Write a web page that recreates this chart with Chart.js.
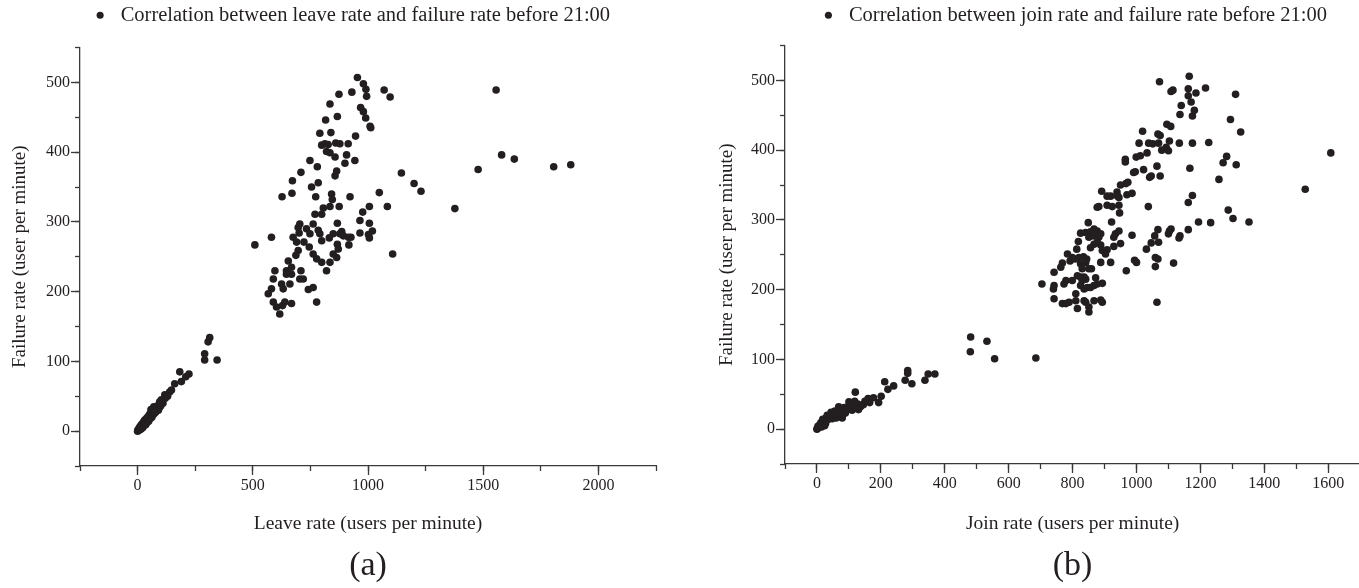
<!DOCTYPE html>
<html>
<head>
<meta charset="utf-8">
<title>Failure rate correlation</title>
<script src="https://cdn.jsdelivr.net/npm/chart.js@4.4.1/dist/chart.umd.min.js"></script>
<style>
  html, body { margin: 0; padding: 0; background: #fff; overflow: hidden; }
  #wrap { position: relative; width: 1359px; height: 588px; overflow: hidden; }
  canvas { position: absolute; top: 0; }
  #leaveChart { left: 0; }
  #joinChart { left: 680px; }
</style>
</head>
<body>
<div id="wrap">
  <canvas id="leaveChart" width="680" height="588"></canvas>
  <canvas id="joinChart" width="684" height="588"></canvas>
</div>
<script>
// (a) leave rate vs failure rate
const leaveRate = [
    // dense band near the origin
    0, 2, 3, 5, 8, 10, 12, 15, 16, 20, 22, 25, 28, 31, 35, 38, 40, 45, 48, 52,
    55, 58, 60, 62, 66, 68, 70, 74, 75, 80, 82, 89, 90, 95, 96, 100, 103, 110, 120, 130,
    // scattered low points
    118, 139, 147, 161, 190, 209, 223, 183, 291, 291, 306, 313, 345,
    // main cluster, upper left
    874, 835, 867, 816, 791, 839, 799, 813, 827, 860,
    878, 820, 835, 857, 748, 780, 709, 864, 857, 672,
    670, 755, 784, 627, 773, 842, 845, 835, 875, 806,
    799, 770,
    // main cluster, lower part
    704, 697, 701, 733, 748, 762, 784, 791, 799, 832,
    849, 867, 878, 893, 915, 917, 867, 871, 849, 864,
    835, 820, 799, 777, 762, 745, 722, 690, 675, 697,
    687, 654, 668, 646, 646, 668, 704, 719, 661, 625,
    632, 596, 589, 581, 567, 589, 603, 617, 629, 639,
    668, 741, 762, 777, 709, 509, 581,
    // main cluster, right side
    954, 980, 991, 994, 930, 1070, 1096, 1556, 968, 980,
    990, 1009, 1012, 946, 914, 907, 900, 943, 1145, 1200,
    1230, 1478, 1580, 922, 1049, 1006, 1084, 977, 965, 1006,
    886, 926, 965, 1002, 1019, 1006, 1107, 1377,
    // far right
    1635, 1806, 1880
];
const leaveFailure = [
    0, 2, 1, 3, 5, 2, 7, 3, 9, 10, 5, 13, 8, 16, 9, 18, 12, 21, 14, 24,
    18, 31, 28, 20, 30, 24, 35, 33, 26, 28, 35, 37, 30, 34, 42, 36, 45, 40, 47, 50,
    52, 56, 59, 68, 71, 78, 82, 85, 102, 111, 128, 134, 102,
    483, 469, 451, 446, 427, 428, 410, 412, 411, 413,
    412, 401, 399, 393, 388, 379, 371, 373, 366, 359,
    341, 350, 356, 336, 336, 340, 332, 322, 322, 320,
    311, 311,
    297, 292, 284, 290, 283, 297, 288, 283, 273, 277,
    283, 298, 283, 280, 278, 267, 268, 261, 254, 249,
    242, 230, 242, 247, 254, 264, 271, 271, 278, 259,
    252, 244, 235, 230, 225, 225, 218, 218, 211, 211,
    204, 230, 218, 204, 197, 185, 178, 168, 180, 185,
    183, 203, 206, 185, 230, 267, 278,
    507, 498, 490, 480, 486, 489, 479, 489, 464, 458,
    449, 437, 435, 423, 412, 396, 384, 388, 370, 355,
    344, 375, 396, 336, 342, 322, 322, 314, 302, 298,
    286, 278, 284, 282, 287, 277, 254, 319,
    390, 379, 382
];

// (b) join rate vs failure rate
const joinRate = [
    // dense band near the origin
    0, 1, 3, 5, 8, 10, 12, 14, 17, 18, 22, 24, 27, 28, 32, 36, 40, 44, 48, 50,
    56, 60, 62, 68, 70, 75, 79, 80, 85, 89, 92, 95, 100, 104, 110, 115, 118, 128, 130, 136,
    145, 150, 160,
    // scattered low points
    120, 165, 177, 193, 201, 212, 222, 240, 276, 297,
    284, 284, 338, 348, 369, 481, 532, 480, 556, 685,
    // main cluster
    1165, 1072, 1114, 1108, 1162, 1186, 1216, 1310, 1162, 1171,
    1140, 1181, 1136, 1175, 1294, 1095, 1107, 1326, 1019, 1067,
    1074, 1008, 1038, 1051, 1069, 1103, 1093, 1079, 1100, 1134,
    1175, 1226, 1033, 999, 1012, 965, 965, 1282, 1271, 1312,
    1608, 996, 991, 1022, 1064, 1046, 1041, 1074, 1167, 1258,
    973, 967, 950, 891, 908, 919, 939, 941, 945, 970,
    986, 882, 877, 908, 924, 945, 947, 1037, 1175, 1162,
    1528, 1287, 1302, 1352, 1194, 1232, 849, 922, 825, 841,
    856, 867, 877, 888, 882, 867, 851, 934, 945, 929,
    986, 1067, 1057, 1046, 1069, 1031, 1103, 1108, 1100, 1136,
    1133, 1162, 818, 813, 784, 799, 792, 768, 763, 742,
    820, 834, 844, 841, 825, 808, 856, 867, 877, 888,
    893, 908, 903, 929, 950, 888, 919, 859, 851, 830,
    968, 994, 1000, 1059, 1067, 1059, 1116, 742, 740, 773,
    779, 799, 815, 825, 836, 830, 841, 825, 836, 846,
    856, 872, 867, 877, 893, 810, 742, 768, 779, 789,
    810, 815, 836, 841, 851, 851, 867, 888, 893, 1064, 704
];
const joinFailure = [
    0, 1, 4, 2, 6, 4, 9, 3, 7, 14, 12, 5, 8, 16, 20, 14, 18, 24, 15, 20,
    26, 16, 22, 32, 25, 28, 16, 20, 31, 23, 28, 30, 39, 35, 27, 33, 40, 36, 28, 32,
    35, 40, 44,
    53, 38, 45, 38, 47, 68, 57, 62, 70, 65,
    84, 80, 70, 79, 79, 132, 126, 111, 101, 102,
    506, 498, 486, 484, 488, 482, 489, 480, 478, 469,
    464, 457, 451, 449, 444, 437, 434, 426, 427, 423,
    421, 410, 410, 409, 410, 413, 404, 400, 399, 410,
    410, 411, 396, 390, 392, 387, 383, 391, 382, 379,
    396, 369, 368, 372, 377, 363, 361, 363, 374, 358,
    354, 352, 350, 341, 334, 334, 340, 334, 332, 336,
    338, 319, 318, 321, 319, 321, 310, 319, 335, 325,
    344, 314, 302, 297, 297, 296, 296, 297, 281, 282,
    283, 287, 284, 280, 275, 277, 275, 280, 284, 275,
    278, 286, 277, 267, 268, 258, 284, 287, 280, 277,
    274, 286, 269, 258, 251, 246, 241, 238, 232, 225,
    246, 247, 244, 239, 237, 244, 260, 265, 268, 264,
    256, 257, 251, 262, 266, 239, 239, 230, 230, 230,
    227, 242, 239, 246, 244, 233, 238, 206, 201, 208,
    213, 213, 220, 218, 218, 213, 215, 206, 201, 203,
    203, 217, 206, 208, 209, 194, 187, 180, 180, 182,
    184, 173, 184, 182, 175, 168, 184, 185, 182, 182, 208
];

// tick positions
const failureTicks = [0, 100, 200, 300, 400, 500];
const failureMinorTicks = [-50, 0, 50, 100, 150, 200, 250, 300, 350, 400, 450, 500, 550];
const leaveTicks = [0, 500, 1000, 1500, 2000];
const leaveMinorTicks = [-250, 0, 250, 500, 750, 1000, 1250, 1500, 1750, 2000, 2250];
const joinTicks = [0, 200, 400, 600, 800, 1000, 1200, 1400, 1600];
const joinMinorTicks = [-100, 0, 100, 200, 300, 400, 500, 600, 700, 800, 900, 1000, 1100, 1200, 1300, 1400, 1500, 1600, 1700];

const inkColor = '#231f20';
const axisColor = '#3a3a3a';
const serif = "'Liberation Serif', 'Times New Roman', serif";

function pairUp(xs, ys) {
    return xs.map((x, i) => ({x: x, y: ys[i]}));
}

function setTicks(list) {
    return (scale) => {
        scale.ticks = list.map(v => ({value: v}));
    };
}

function buildChart(canvasId, cfg) {
    const ctx = document.getElementById(canvasId).getContext('2d');

    return new Chart(ctx, {
        type: 'scatter',
        data: {
            datasets: [{
                label: cfg.legend,
                data: pairUp(cfg.xs, cfg.ys),
                backgroundColor: inkColor,
                borderWidth: 0,
                pointRadius: 3.8,
                pointHoverRadius: 3.8,
                pointStyle: 'circle'
            }]
        },
        options: {
            responsive: false,
            animation: false,
            devicePixelRatio: 1,
            layout: {
                padding: {top: 0, right: cfg.padRight, bottom: 5, left: cfg.padLeft}
            },
            plugins: {
                legend: {
                    position: 'top',
                    fullSize: cfg.legendFull,
                    labels: {
                        usePointStyle: true,
                        boxHeight: 5,
                        padding: 5,
                        color: inkColor,
                        font: {family: serif, size: 20.5}
                    }
                },
                title: {
                    display: true,
                    position: 'bottom',
                    fullSize: false,
                    text: cfg.panel,
                    color: inkColor,
                    padding: 0,
                    font: {family: serif, size: 34, weight: 'normal', lineHeight: 1}
                },
                tooltip: {enabled: false}
            },
            scales: {
                x: {
                    type: 'linear',
                    position: 'bottom',
                    weight: 1,
                    min: cfg.xMin,
                    max: cfg.xMax,
                    afterBuildTicks: setTicks(cfg.xTicks),
                    afterFit: (scale) => { scale.height = cfg.xAxisHeight; },
                    grid: {drawOnChartArea: false, tickLength: 9, tickWidth: 1.3, tickColor: axisColor},
                    border: {color: axisColor, width: 1.3},
                    ticks: {
                        padding: 1,
                        autoSkip: false,
                        maxRotation: 0,
                        color: inkColor,
                        font: {family: serif, size: 16},
                        callback: (v) => String(v)
                    },
                    title: {
                        display: true,
                        text: cfg.xTitle,
                        color: inkColor,
                        font: {family: serif, size: 19.5},
                        padding: {top: 0, bottom: 13}
                    }
                },
                xMinor: {
                    type: 'linear',
                    position: 'bottom',
                    weight: 0,
                    min: cfg.xMin,
                    max: cfg.xMax,
                    afterBuildTicks: setTicks(cfg.xMinorTicks),
                    afterFit: (scale) => { scale.height = 0; },
                    grid: {drawOnChartArea: false, tickLength: 5, tickWidth: 1.3, tickColor: axisColor},
                    border: {display: false},
                    ticks: {display: false}
                },
                y: {
                    type: 'linear',
                    position: 'left',
                    weight: 1,
                    min: -50,
                    max: 550,
                    afterBuildTicks: setTicks(failureTicks),
                    afterFit: (scale) => { scale.width = cfg.yAxisWidth; },
                    grid: {drawOnChartArea: false, tickLength: 9, tickWidth: 1.3, tickColor: axisColor},
                    border: {color: axisColor, width: 1.3},
                    ticks: {
                        padding: 1,
                        autoSkip: false,
                        color: inkColor,
                        font: {family: serif, size: 16},
                        callback: (v) => String(v)
                    },
                    title: {
                        display: true,
                        text: 'Failure rate (user per minute)',
                        color: inkColor,
                        font: {family: serif, size: 19},
                        padding: {top: cfg.yTitlePad, bottom: 0}
                    }
                },
                yMinor: {
                    type: 'linear',
                    position: 'left',
                    weight: 0,
                    min: -50,
                    max: 550,
                    afterBuildTicks: setTicks(failureMinorTicks),
                    afterFit: (scale) => { scale.width = 0; },
                    grid: {drawOnChartArea: false, tickLength: 5, tickWidth: 1.3, tickColor: axisColor},
                    border: {display: false},
                    ticks: {display: false}
                },
                // empty band between the legend and the plot
                gap: {
                    type: 'linear',
                    position: 'top',
                    afterFit: (scale) => { scale.height = cfg.topGap; },
                    grid: {display: false},
                    border: {display: false},
                    ticks: {display: false}
                }
            }
        }
    });
}

buildChart('leaveChart', {
    xs: leaveRate,
    ys: leaveFailure,
    legend: 'Correlation between leave rate and failure rate before 21:00',
    panel: '(a)',
    xTitle: 'Leave rate (users per minute)',
    xMin: -250,
    xMax: 2250,
    xTicks: leaveTicks,
    xMinorTicks: leaveMinorTicks,
    xAxisHeight: 83,
    topGap: 12,
    legendFull: true,
    padLeft: 44,
    padRight: 24,
    yAxisWidth: 36,
    yTitlePad: -35
});

buildChart('joinChart', {
    xs: joinRate,
    ys: joinFailure,
    legend: 'Correlation between join rate and failure rate before 21:00',
    panel: '(b)',
    xTitle: 'Join rate (users per minute)',
    xMin: -100,
    xMax: 1700,
    xTicks: joinTicks,
    xMinorTicks: joinMinorTicks,
    xAxisHeight: 85,
    topGap: 10,
    legendFull: false,
    padLeft: 0,
    padRight: 0,
    yAxisWidth: 105,
    yTitlePad: 36
});
</script>
</body>
</html>
